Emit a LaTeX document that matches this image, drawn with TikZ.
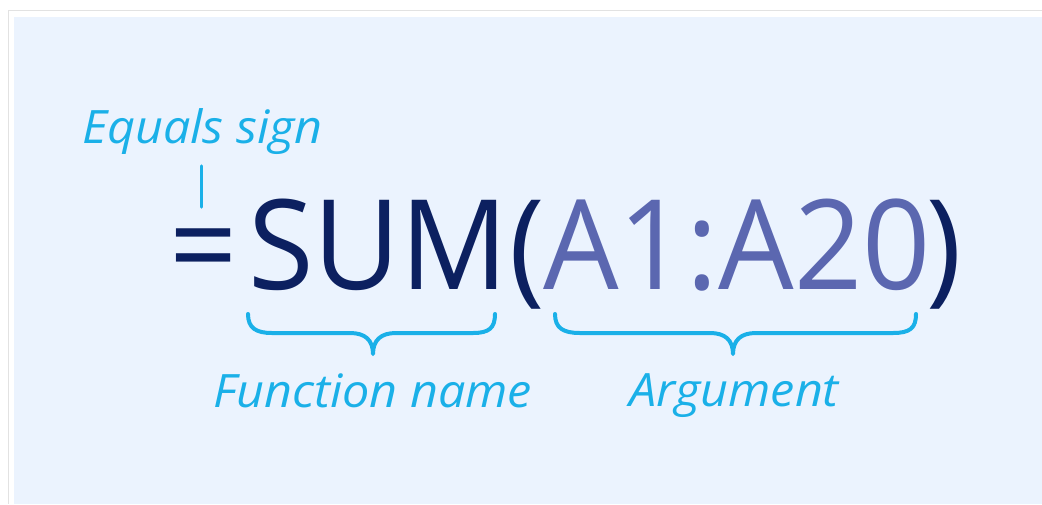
\documentclass[tikz,border=0pt]{standalone}
\usepackage{fontspec}
\setmainfont{Open Sans}
\newfontfamily\formulafont[FakeStretch=0.955]{Open Sans}
\newfontfamily\notefont[FakeStretch=1.055]{Open Sans}

\definecolor{panelblue}{RGB}{235,243,254}
\definecolor{framegrey}{RGB}{226,226,226}
\definecolor{notecyan}{RGB}{26,176,232}
\definecolor{navy}{RGB}{12,32,96}
\definecolor{rangeblue}{RGB}{91,103,176}

\tikzset{
  formula/.style={anchor=base west, inner sep=0pt, outer sep=0pt,
    font=\formulafont\fontsize{125}{125}\selectfont},
  note/.style={anchor=base west, inner sep=0pt, outer sep=0pt, text=notecyan,
    font=\notefont\itshape\fontsize{46}{46}\selectfont},
  bracepath/.style={draw=notecyan, line width=4pt, line cap=round, line join=round},
}

\begin{document}
\begin{tikzpicture}[x=1pt, y=-1pt]
  \useasboundingbox (0,0) rectangle (1042,504);
  \fill[white] (0,0) rectangle (1042,504);
  \fill[panelblue] (14,17) rectangle (1042,504);
  \draw[framegrey, line width=1.5pt] (8.5,504) |- (1042,10.5);

  % the formula, piece by piece
  \node[formula, text=navy]      (eq)    at (169,289) {=};
  \node[formula, text=navy]      (fname) at (248,289) {SUM};
  \node[formula, text=navy]      (lpar)  at (509,289) {(};
  \node[formula, text=rangeblue] (range) at (543,289) {A1:A20};
  \node[formula, text=navy]      (rpar)  at (926,289) {)};

  % labels
  \node[note] (eqlabel) at (82,143) {Equals sign};
  \node[note] (fnlabel) at (213,407) {Function name};
  \node[note] (arglabel) at (629,406) {Argument};

  % tick from the label down to the equals sign
  \coordinate (tickTop) at (201.5,166);
  \coordinate (tickBot) at (201.5,207);
  \draw[bracepath, line width=3.5pt] (tickTop) -- (tickBot);

  % brace under the function name
  \coordinate (fA) at (248,314);
  \coordinate (fT) at (373,354);
  \coordinate (fB) at (495,314);
  \draw[bracepath] (fA) .. controls (248,328) and (256,333) .. (272,333)
    -- (350,333) .. controls (365,333) and (373,340) .. (fT)
    .. controls (373,340) and (381,333) .. (396,333)
    -- (473,333) .. controls (489,333) and (495,328) .. (fB);

  % brace under the argument
  \coordinate (aA) at (555,314);
  \coordinate (aT) at (733,354);
  \coordinate (aB) at (916,314);
  \draw[bracepath] (aA) .. controls (555,328) and (563,333) .. (580,333)
    -- (710,333) .. controls (725,333) and (733,340) .. (aT)
    .. controls (733,340) and (741,333) .. (756,333)
    -- (893,333) .. controls (910,333) and (916,328) .. (aB);
\end{tikzpicture}
\end{document}
